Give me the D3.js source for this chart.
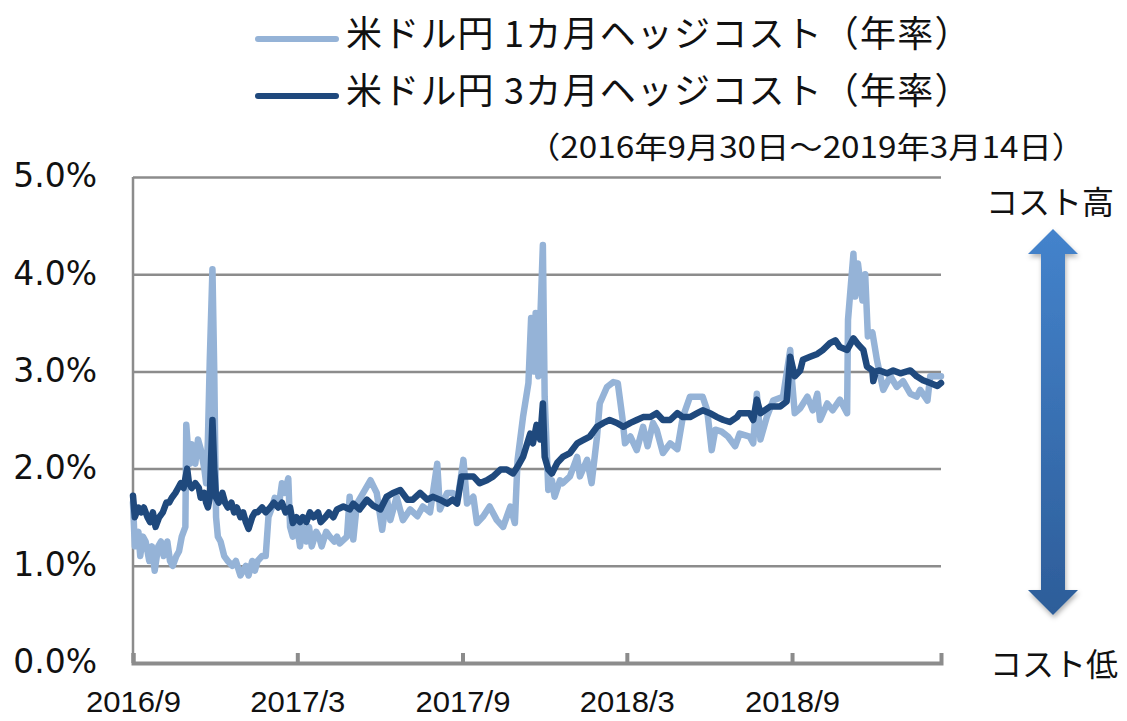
<!DOCTYPE html>
<html><head><meta charset="utf-8">
<script src="https://cdn.jsdelivr.net/npm/d3@7"></script>
<style>html,body{margin:0;padding:0;background:#fff;}svg{display:block;}</style>
</head><body>
<svg id="chart" width="1127" height="721"></svg>
<script>
const seriesNames = ["米ドル円 1カ月ヘッジコスト（年率）", "米ドル円 3カ月ヘッジコスト（年率）"];
const periodLabel = "（2016年9月30日～2019年3月14日）";
const yTicks = [0, 1, 2, 3, 4, 5];
const xTickDates = ["2016-09-30", "2017-03-31", "2017-09-30", "2018-03-31", "2018-09-30"];
const xTickLabels = ["2016/9", "2017/3", "2017/9", "2018/3", "2018/9"];
const dateRange = ["2016-09-30", "2019-03-14"];
const arrowLabels = ["コスト高", "コスト低"];

const hedge1M = [
["2016-09-30",1.65],["2016-10-02",1.2],["2016-10-06",1.35],["2016-10-08",1.1],["2016-10-11",1.3],["2016-10-14",1.25],["2016-10-18",1.05],["2016-10-21",1.2],["2016-10-24",0.95],["2016-10-28",1.2],["2016-10-31",1.25],["2016-11-03",1.1],["2016-11-07",1.25],["2016-11-10",1.05],["2016-11-13",1.0],["2016-11-17",1.1],["2016-11-20",1.15],["2016-11-23",1.3],["2016-11-27",1.4],["2016-11-28",2.45],["2016-11-30",2.2],["2016-12-02",2.05],["2016-12-04",2.25],["2016-12-08",2.05],["2016-12-11",2.3],["2016-12-14",2.2],["2016-12-18",2.0],["2016-12-20",1.85],["2016-12-22",2.3],["2016-12-24",3.1],["2016-12-27",4.05],["2016-12-29",3.0],["2016-12-31",1.5],
["2017-01-02",1.3],["2017-01-05",1.25],["2017-01-09",1.1],["2017-01-13",1.05],["2017-01-18",1.0],["2017-01-22",1.05],["2017-01-27",0.9],["2017-01-30",0.95],["2017-02-02",1.0],["2017-02-05",0.9],["2017-02-09",1.05],["2017-02-12",0.95],["2017-02-15",1.05],["2017-02-20",1.1],["2017-02-24",1.1],["2017-02-27",1.5],["2017-03-03",1.6],["2017-03-06",1.7],["2017-03-11",1.65],["2017-03-14",1.85],["2017-03-17",1.75],["2017-03-21",1.9],["2017-03-23",1.4],["2017-03-26",1.3],["2017-03-30",1.45],["2017-04-03",1.2],["2017-04-06",1.4],["2017-04-10",1.25],["2017-04-13",1.4],["2017-04-16",1.2],["2017-04-21",1.35],["2017-04-24",1.3],["2017-04-27",1.2],["2017-05-02",1.35],["2017-05-06",1.3],["2017-05-11",1.25],["2017-05-14",1.3],["2017-05-17",1.23],["2017-05-25",1.3],["2017-05-28",1.71],["2017-06-01",1.27],["2017-06-05",1.64],["2017-06-12",1.75],["2017-06-20",1.88],["2017-06-27",1.75],["2017-07-03",1.37],["2017-07-08",1.71],["2017-07-12",1.47],["2017-07-19",1.71],["2017-07-26",1.47],["2017-08-03",1.58],["2017-08-11",1.51],["2017-08-17",1.61],["2017-08-25",1.55],["2017-09-02",2.05],["2017-09-05",1.58],["2017-09-13",1.75],["2017-09-19",1.75],["2017-09-25",1.71],["2017-10-01",2.09],["2017-10-05",1.64],["2017-10-12",1.71],["2017-10-16",1.44],["2017-10-23",1.51],["2017-10-30",1.61],["2017-11-07",1.47],["2017-11-14",1.40],["2017-11-22",1.61],["2017-11-27",1.44],["2017-11-30",2.09],["2017-12-06",2.53],["2017-12-12",2.88],["2017-12-15",3.55],["2017-12-18",3.0],["2017-12-20",3.6],["2017-12-23",2.95],["2017-12-25",3.5],["2017-12-28",4.3],["2017-12-30",2.74],
["2018-01-03",1.78],["2018-01-07",1.88],["2018-01-10",1.71],["2018-01-16",1.88],["2018-01-19",1.85],["2018-01-27",1.92],["2018-02-04",2.12],["2018-02-07",1.92],["2018-02-15",2.09],["2018-02-20",1.85],["2018-02-26",2.33],["2018-03-01",2.67],["2018-03-09",2.84],["2018-03-16",2.89],["2018-03-21",2.88],["2018-03-26",2.53],["2018-03-29",2.26],["2018-04-04",2.33],["2018-04-11",2.19],["2018-04-18",2.43],["2018-04-23",2.23],["2018-04-29",2.47],["2018-05-03",2.40],["2018-05-10",2.16],["2018-05-18",2.26],["2018-05-26",2.2],["2018-06-01",2.53],["2018-06-09",2.74],["2018-06-17",2.74],["2018-06-23",2.74],["2018-06-28",2.6],["2018-07-03",2.19],["2018-07-07",2.4],["2018-07-14",2.38],["2018-07-21",2.33],["2018-07-29",2.23],["2018-08-03",2.36],["2018-08-14",2.33],["2018-08-18",2.26],["2018-08-22",2.77],["2018-08-26",2.3],["2018-09-02",2.53],["2018-09-09",2.7],["2018-09-20",2.74],["2018-09-28",3.22],["2018-09-30",2.9],["2018-10-03",2.57],["2018-10-09",2.62],["2018-10-17",2.74],["2018-10-23",2.6],["2018-10-28",2.77],["2018-10-31",2.5],["2018-11-08",2.67],["2018-11-14",2.6],["2018-11-22",2.71],["2018-11-30",2.57],["2018-12-01",3.53],["2018-12-07",4.21],["2018-12-09",3.77],["2018-12-12",4.11],["2018-12-17",3.73],["2018-12-20",4.0],["2018-12-23",3.36],["2018-12-28",3.4],
["2019-01-02",3.12],["2019-01-09",2.81],["2019-01-17",2.95],["2019-01-24",2.84],["2019-01-31",2.9],["2019-02-08",2.77],["2019-02-15",2.74],["2019-02-19",2.81],["2019-02-27",2.7],["2019-03-02",2.95],["2019-03-10",2.95],["2019-03-14",2.95]
];

const hedge3M = [
["2016-09-30",1.72],["2016-10-02",1.5],["2016-10-06",1.6],["2016-10-09",1.55],["2016-10-12",1.6],["2016-10-16",1.5],["2016-10-19",1.45],["2016-10-22",1.55],["2016-10-25",1.4],["2016-10-29",1.5],["2016-11-02",1.55],["2016-11-06",1.65],["2016-11-09",1.65],["2016-11-12",1.7],["2016-11-16",1.75],["2016-11-19",1.8],["2016-11-22",1.85],["2016-11-25",1.8],["2016-11-29",2.0],["2016-12-01",1.85],["2016-12-04",1.8],["2016-12-08",1.85],["2016-12-12",1.8],["2016-12-14",1.7],["2016-12-18",1.75],["2016-12-20",1.65],["2016-12-22",1.6],["2016-12-24",1.7],["2016-12-27",2.5],["2016-12-29",2.0],["2016-12-31",1.7],
["2017-01-03",1.65],["2017-01-07",1.75],["2017-01-10",1.65],["2017-01-13",1.6],["2017-01-17",1.65],["2017-01-20",1.55],["2017-01-23",1.6],["2017-01-27",1.5],["2017-01-30",1.55],["2017-02-02",1.45],["2017-02-05",1.38],["2017-02-09",1.5],["2017-02-12",1.55],["2017-02-15",1.55],["2017-02-20",1.6],["2017-02-24",1.55],["2017-03-01",1.6],["2017-03-05",1.65],["2017-03-10",1.6],["2017-03-14",1.65],["2017-03-18",1.55],["2017-03-23",1.6],["2017-03-26",1.44],["2017-03-30",1.5],["2017-04-03",1.45],["2017-04-06",1.5],["2017-04-10",1.45],["2017-04-14",1.55],["2017-04-18",1.5],["2017-04-23",1.55],["2017-04-26",1.45],["2017-05-01",1.5],["2017-05-05",1.55],["2017-05-10",1.5],["2017-05-14",1.58],["2017-05-21",1.61],["2017-05-28",1.58],["2017-06-01",1.64],["2017-06-08",1.58],["2017-06-16",1.68],["2017-06-23",1.62],["2017-07-01",1.58],["2017-07-08",1.71],["2017-07-15",1.75],["2017-07-23",1.78],["2017-07-31",1.68],["2017-08-06",1.68],["2017-08-14",1.75],["2017-08-22",1.68],["2017-08-28",1.71],["2017-09-05",1.68],["2017-09-13",1.64],["2017-09-19",1.68],["2017-09-24",1.64],["2017-09-29",1.92],["2017-10-05",1.92],["2017-10-12",1.92],["2017-10-19",1.85],["2017-10-27",1.88],["2017-11-03",1.92],["2017-11-11",1.99],["2017-11-18",1.99],["2017-11-25",1.95],["2017-11-30",2.02],["2017-12-06",2.12],["2017-12-14",2.36],["2017-12-17",2.26],["2017-12-21",2.45],["2017-12-25",2.3],["2017-12-28",2.67],["2017-12-30",2.12],
["2018-01-03",1.99],["2018-01-07",1.95],["2018-01-13",2.06],["2018-01-19",2.12],["2018-01-27",2.16],["2018-02-04",2.26],["2018-02-10",2.29],["2018-02-18",2.33],["2018-02-26",2.43],["2018-03-05",2.47],["2018-03-12",2.5],["2018-03-20",2.47],["2018-03-27",2.43],["2018-04-04",2.47],["2018-04-11",2.5],["2018-04-18",2.53],["2018-04-26",2.53],["2018-05-03",2.57],["2018-05-10",2.5],["2018-05-18",2.5],["2018-05-26",2.57],["2018-06-01",2.53],["2018-06-09",2.53],["2018-06-17",2.57],["2018-06-23",2.6],["2018-07-01",2.57],["2018-07-09",2.53],["2018-07-16",2.5],["2018-07-23",2.48],["2018-07-31",2.53],["2018-08-03",2.57],["2018-08-14",2.57],["2018-08-18",2.5],["2018-08-22",2.71],["2018-08-26",2.57],["2018-09-06",2.64],["2018-09-17",2.64],["2018-09-24",2.69],["2018-09-28",3.15],["2018-10-03",2.95],["2018-10-09",3.01],["2018-10-12",3.12],["2018-10-20",3.15],["2018-10-28",3.18],["2018-11-03",3.22],["2018-11-11",3.29],["2018-11-17",3.32],["2018-11-22",3.25],["2018-11-30",3.22],["2018-12-07",3.34],["2018-12-12",3.28],["2018-12-18",3.22],["2018-12-22",3.05],["2018-12-28",3.01],["2018-12-29",2.9],
["2019-01-01",3.0],["2019-01-05",3.01],["2019-01-13",2.98],["2019-01-20",3.01],["2019-01-28",2.98],["2019-02-08",3.01],["2019-02-15",2.95],["2019-02-22",2.91],["2019-03-02",2.88],["2019-03-10",2.85],["2019-03-14",2.88]
];

const colors = ["#95B3D7", "#1F497D"];

const parse = d3.timeParse("%Y-%m-%d");
const svg = d3.select("#chart");
const defs = svg.append("defs");

const x = d3.scaleTime().domain(dateRange.map(parse)).range([133, 941]);
const y = d3.scaleLinear().domain([0, 5]).range([663, 177]);

// gridlines + y labels
const yAxis = d3.axisLeft(y).tickValues(yTicks).tickSize(-(941 - 133)).tickPadding(36)
  .tickFormat(d => d.toFixed(1) + "%");
const gy = svg.append("g").attr("transform", "translate(133,0)").call(yAxis);
gy.select(".domain").remove();
gy.selectAll(".tick line").attr("stroke", "#8c8c8c").attr("stroke-width", 2.5);
gy.selectAll(".tick text").attr("font-family", "'DejaVu Sans', Verdana, sans-serif")
  .attr("font-size", 33).attr("fill", "#111").attr("dy", "0.3em");

// left axis line
svg.append("line").attr("x1", 133).attr("x2", 133).attr("y1", y(5)).attr("y2", y(0))
  .attr("stroke", "#8c8c8c").attr("stroke-width", 2.5);

// bottom axis
const xAxis = d3.axisBottom(x).tickValues(xTickDates.map(parse)).tickSize(-10)
  .tickFormat((d, i) => xTickLabels[i]);
const gx = svg.append("g").attr("transform", `translate(0,${y(0)})`).call(xAxis);
gx.select(".domain").attr("stroke", "#8c8c8c").attr("stroke-width", 4);
gx.selectAll(".tick line").attr("stroke", "#8c8c8c").attr("stroke-width", 4);
gx.selectAll(".tick text").attr("font-family", "'Liberation Sans', Arial, sans-serif")
  .attr("font-size", 29).attr("fill", "#111").attr("y", 49).attr("dy", 0)
  .attr("textLength", 95).attr("lengthAdjust", "spacingAndGlyphs");

// lines
const line = d3.line().x(d => x(parse(d[0]))).y(d => y(d[1])).curve(d3.curveLinear);
[hedge1M, hedge3M].forEach((s, i) => {
  svg.append("path").datum(s).attr("d", line).attr("fill", "none")
    .attr("stroke", colors[i]).attr("stroke-width", 6.5)
    .attr("stroke-linejoin", "round").attr("stroke-linecap", "round");
});

// legend
seriesNames.forEach((name, i) => {
  const ly = 39 + i * 57;
  svg.append("line").attr("x1", 258).attr("x2", 336).attr("y1", ly).attr("y2", ly)
    .attr("stroke", colors[i]).attr("stroke-width", 6).attr("stroke-linecap", "round");
  svg.append("text").attr("x", 346).attr("y", ly + 8).text(name)
    .attr("font-family", "'Noto Sans CJK JP', sans-serif").attr("font-size", 36)
    .style("letter-spacing", "1.2px")
    .attr("fill", "#111");
});

svg.append("text").attr("x", 1085).attr("y", 158).attr("text-anchor", "end")
  .attr("font-family", "'Noto Sans CJK JP', sans-serif").attr("font-size", 30)
  .attr("textLength", 558).attr("lengthAdjust", "spacingAndGlyphs")
  .attr("fill", "#111").text(periodLabel);

// arrow
const grad = defs.append("linearGradient").attr("id", "arrowGrad")
  .attr("x1", 0).attr("y1", 0).attr("x2", 0).attr("y2", 1);
grad.append("stop").attr("offset", "0%").attr("stop-color", "#4483cc");
grad.append("stop").attr("offset", "100%").attr("stop-color", "#2d5d99");
const filt = defs.append("filter").attr("id", "shadow").attr("x", "-50%").attr("y", "-10%")
  .attr("width", "200%").attr("height", "120%");
filt.append("feDropShadow").attr("dx", 1).attr("dy", 3).attr("stdDeviation", 2.5)
  .attr("flood-color", "#000").attr("flood-opacity", 0.3);
const ax = 1053, aTop = 229, aBot = 615, headH = 25, headW = 25, shaftW = 12;
const arrowPts = [
  [ax, aTop], [ax + headW, aTop + headH], [ax + shaftW, aTop + headH],
  [ax + shaftW, aBot - headH], [ax + headW, aBot - headH], [ax, aBot],
  [ax - headW, aBot - headH], [ax - shaftW, aBot - headH], [ax - shaftW, aTop + headH],
  [ax - headW, aTop + headH]
];
svg.append("path").attr("d", d3.line()(arrowPts) + "Z").attr("fill", "url(#arrowGrad)")
  .attr("filter", "url(#shadow)");

svg.append("text").attr("x", 986).attr("y", 214).text(arrowLabels[0])
  .attr("font-family", "'Noto Sans CJK JP', sans-serif").attr("font-size", 32).attr("fill", "#111");
svg.append("text").attr("x", 990).attr("y", 676).text(arrowLabels[1])
  .attr("font-family", "'Noto Sans CJK JP', sans-serif").attr("font-size", 32).attr("fill", "#111");
</script>
</body></html>
